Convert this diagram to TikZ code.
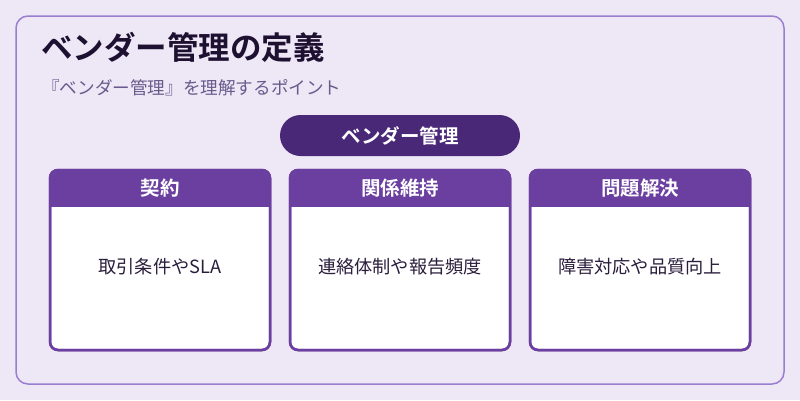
\documentclass[tikz,border=0pt]{standalone}
\usepackage{fontspec}
\newfontfamily\jp{Noto Sans CJK JP}
\newfontfamily\jpb{Noto Sans CJK JP Bold}
\definecolor{bgc}{HTML}{EDE7F6}
\definecolor{frame}{HTML}{9A7FD0}
\definecolor{pill}{HTML}{4A2878}
\definecolor{head}{HTML}{6B3FA0}
\definecolor{titlec}{HTML}{1E1030}
\definecolor{subc}{HTML}{6A5A8C}
\definecolor{bodyc}{HTML}{2A1E3C}
\tikzset{
  cardbox/.style={draw=head, line width=2.5pt, fill=white, rounded corners=8pt},
  headtext/.style={text=white, font=\jpb\fontsize{19.5}{22}\selectfont, anchor=center},
  bodytext/.style={text=bodyc, font=\jp\fontsize{18.2}{21}\selectfont, anchor=center},
}
\begin{document}
\begin{tikzpicture}[x=1pt,y=-1pt]
\useasboundingbox (0,0) rectangle (800,400);
\fill[bgc] (0,0) rectangle (800,400);
\draw[frame, line width=1.5pt, rounded corners=12pt] (16,16) rectangle (784,384);
\node[anchor=west, text=titlec, font=\jpb\fontsize{31.5}{36}\selectfont, inner sep=0] (title) at (41,47) {ベンダー管理の定義};
\node[anchor=west, text=subc, font=\jp\fontsize{17.6}{21}\selectfont, inner sep=0] (sub) at (42,88) {『ベンダー管理』を理解するポイント};
\node[fill=pill, rounded corners=20.5pt, minimum width=240pt, minimum height=41pt, text=white, font=\jpb\fontsize{19.5}{22}\selectfont, inner sep=0] (root) at (400,135.5) {ベンダー管理};
\foreach \i/\x/\h/\b in {1/50/契約/取引条件やSLA, 2/290/関係維持/連絡体制や報告頻度, 3/530/問題解決/障害対応や品質向上}{
  \draw[cardbox] (\x,170) rectangle ++(220,180);
  \begin{scope}
    \clip[rounded corners=8pt] (\x,170) rectangle ++(220,180);
    \fill[head] (\x,170) rectangle ++(220,37);
  \end{scope}
  \draw[head, line width=2.5pt, rounded corners=8pt] (\x,170) rectangle ++(220,180);
  \node[headtext] (h\i) at (\x+110,188.5) {\h};
  \node[bodytext] (b\i) at (\x+110,267) {\b};
}
\end{tikzpicture}
\end{document}
